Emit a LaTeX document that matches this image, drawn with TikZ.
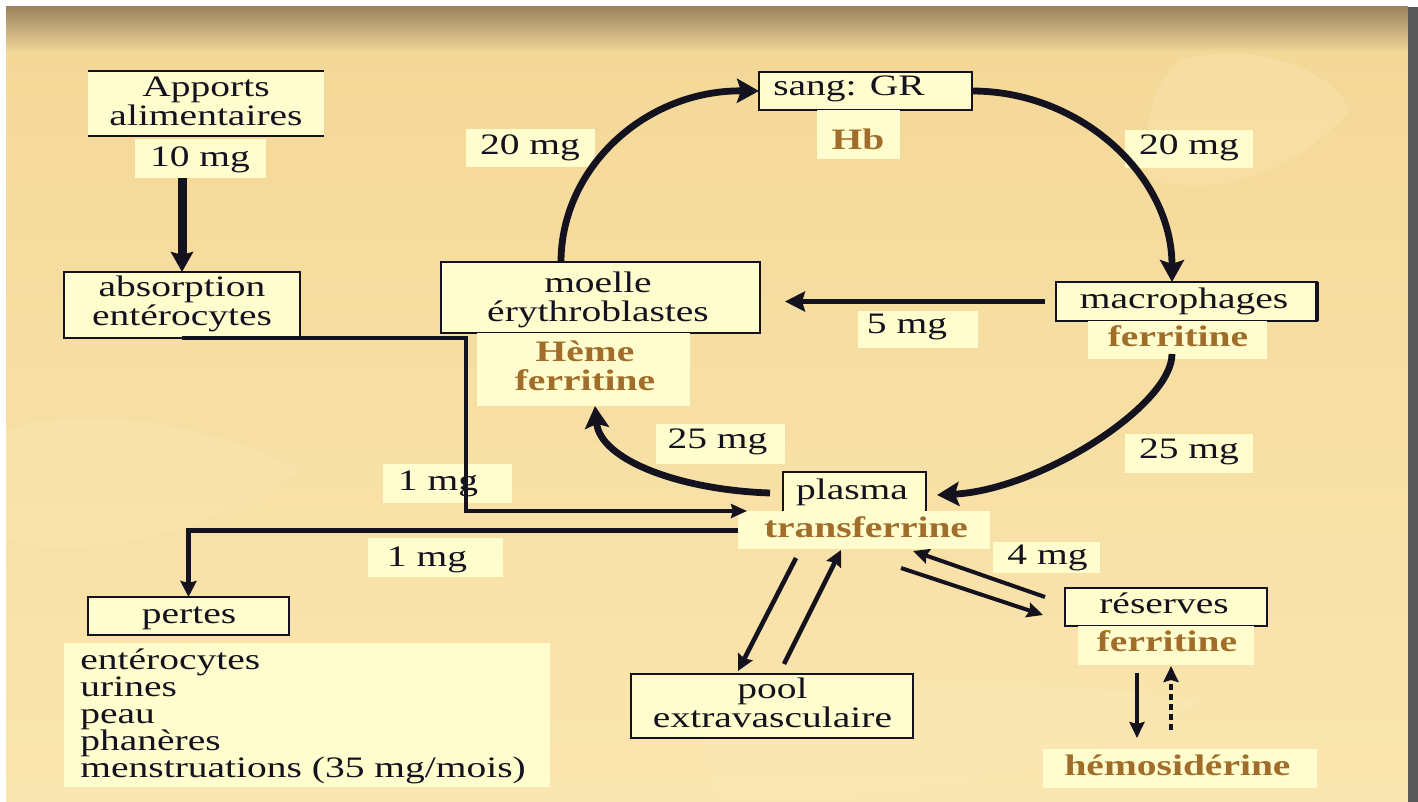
\documentclass[tikz,border=0pt]{standalone}
\usepackage{fontspec}
\setmainfont{Liberation Serif}[FakeStretch=1.33]
\usetikzlibrary{arrows.meta}
\definecolor{cream}{RGB}{255,252,206}
\definecolor{brownt}{RGB}{160,110,42}
\definecolor{hdrtop}{RGB}{155,132,96}
\definecolor{hdrbot}{RGB}{242,214,152}
\definecolor{bgtop}{RGB}{244,216,152}
\definecolor{bgbot}{RGB}{250,230,176}
\definecolor{barg}{RGB}{88,88,88}
\definecolor{ink}{RGB}{20,18,30}
\definecolor{leaf}{RGB}{253,238,190}
\newcommand{\myfs}{\fontsize{14.85}{14.5}\selectfont}
\newcommand{\myfslist}{\fontsize{14.85}{13.5}\selectfont}
\begin{document}
\begin{tikzpicture}[x=0.5pt,y=-0.5pt,
  box/.style={draw=ink, line width=0.8pt, fill=cream, inner sep=0pt, outer sep=0pt},
  lbl/.style={fill=cream, inner sep=0pt, outer sep=0pt},
  sz/.style 2 args={minimum width=#1*0.5pt, minimum height=#2*0.5pt},
  txt/.style={inner sep=0pt, align=center, font=\myfs, text=ink},
  btxt/.style={inner sep=0pt, align=center, font=\myfs\bfseries, text=brownt},
  big/.style={draw=ink, line width=3.4pt, -{Stealth[length=11pt,width=12pt,inset=2pt]}},
  fat/.style={draw=ink, line width=4.5pt, -{Stealth[length=10pt,width=11pt,inset=1.5pt]}},
  mid/.style={draw=ink, line width=2.6pt, -{Stealth[length=10pt,width=10pt,inset=1.5pt]}},
  thinA/.style={draw=ink, line width=1.8pt, -{Stealth[length=8pt,width=7pt,inset=1pt]}},
  thinB/.style={draw=ink, line width=2.5pt, -{Stealth[length=8pt,width=8pt,inset=1pt]}},
  pl/.style={draw=ink, line width=2.3pt, -{Stealth[length=8pt,width=8pt,inset=1pt]}},
  pr/.style={draw=ink, line width=2pt, -{Stealth[length=8pt,width=7.5pt,inset=1pt]}}]
\useasboundingbox (0,0) rectangle (1418,802);
% background
\fill[white] (0,0) rectangle (1418,802);
\shade[top color=hdrtop, bottom color=hdrbot] (6,7) rectangle (1408,52);
\shade[top color=bgtop, bottom color=bgbot] (6,52) rectangle (1408,802);
\fill[leaf, opacity=0.25] (1180,60) .. controls (1260,40) and (1330,70) .. (1350,110) .. controls (1300,170) and (1220,200) .. (1150,180) .. controls (1140,130) and (1150,90) .. cycle;
\fill[leaf, opacity=0.22] (700,720) .. controls (850,670) and (1050,680) .. (1200,700) .. controls (1120,760) and (900,800) .. (720,800) -- cycle;
\fill[leaf, opacity=0.2] (6,430) .. controls (100,400) and (220,430) .. (300,470) .. controls (200,540) and (80,560) .. (6,540) -- cycle;
\fill[barg] (1408,7) rectangle (1418,802);

% boxes
\node[lbl, sz={236}{65}] (apports) at (206,103.5) {};
\draw[ink, line width=0.8pt] (apports.north west) -- (apports.north east) (apports.south west) -- (apports.south east);
\node[lbl, sz={131}{39}] (lbl10) at (200.5,158.5) {};
\node[box, sz={236}{66}] (absorption) at (182,305) {};
\node[box, sz={319}{71}] (moelle) at (600.5,297.5) {};
\node[box, sz={213}{38}] (sang) at (865.5,91) {};
\node[box, sz={261}{39}] (macro) at (1186.5,301.5) {};
\draw[ink, line width=2pt] (macro.north east) -- (macro.south east);
\node[box, sz={143}{53}] (plasma) at (854.5,498.5) {};
\node[box, sz={201}{38}] (pertes) at (188.5,616) {};
\node[box, sz={282}{64}] (pool) at (772,706) {};
\node[box, sz={202}{38}] (reserves) at (1166,607) {};

% cream labels
\node[lbl, sz={213}{73}] (heme) at (583.5,369.5) {};
\node[lbl, sz={83}{49}] (hb) at (858.5,134.5) {};
\node[lbl, sz={129}{38}] (l20a) at (530.5,148) {};
\node[lbl, sz={128}{38}] (l20b) at (1189,149) {};
\node[lbl, sz={179}{38}] (mfl) at (1177.5,340) {};
\node[lbl, sz={120}{37}] (l5) at (918,329.5) {};
\node[lbl, sz={129}{40}] (l25a) at (720.5,444) {};
\node[lbl, sz={128}{39}] (l25b) at (1189,453.5) {};
\node[lbl, sz={252}{38}] (tfl) at (864,530) {};
\node[lbl, sz={129}{39}] (l1a) at (447.5,483.5) {};
\node[lbl, sz={135}{39}] (l1b) at (435.5,557.5) {};
\node[lbl, sz={486}{144}] (lossbox) at (307,715) {};
\node[lbl, sz={176}{39}] (rfl) at (1166,645.5) {};
\node[lbl, sz={107}{31}] (l4) at (1046.5,557.5) {};
\node[lbl, sz={274}{39}] (hemo) at (1180,768.5) {};

% texts
\node[txt] (apportsT) at (206,101) {Apports\\alimentaires};
\node[txt] (t10) at (200,160) {10 mg};
\node[txt] (absT) at (182,303.5) {absorption\\entérocytes};
\node[txt] (moelleT) at (598,300) {moelle\\érythroblastes};
\node[btxt] (hemeT) at (585,366) {Hème\\ferritine};
\node[txt] (sangT) at (849,89) {sang: GR};
\node[btxt] (hbT) at (858,139.5) {Hb};
\node[txt] (t20a) at (530,148) {20 mg};
\node[txt] (t20b) at (1189,148) {20 mg};
\node[txt] (macroT) at (1184,301.5) {macrophages};
\node[btxt] (mferT) at (1178,336) {ferritine};
\node[txt] (t5) at (907,327) {5 mg};
\node[txt] (t25a) at (717.5,442) {25 mg};
\node[txt] (t25b) at (1189,451.5) {25 mg};
\node[txt] (plasmaT) at (852,492.5) {plasma};
\node[btxt] (tfT) at (866,527) {transferrine};
\node[txt] (t1a) at (438,484) {1 mg};
\node[txt] (t1b) at (427,560) {1 mg};
\node[txt] (t4) at (1047.5,558) {4 mg};
\node[txt] (pertesT) at (189,618.5) {pertes};
\node[txt, align=left, anchor=west, font=\myfslist] (lossT) at (80,716) {entérocytes\\urines\\peau\\phanères\\menstruations (35 mg/mois)};
\node[txt] (poolT) at (772.5,702.5) {pool\\extravasculaire};
\node[txt] (resT) at (1164,603) {réserves};
\node[btxt] (rferT) at (1167,641) {ferritine};
\node[btxt] (hemoT) at (1177.5,765) {hémosidérine};

% connector points
\coordinate (jB1) at (466,338);
\coordinate (jB2) at (466,511);
\coordinate (inB) at (747,511);
\coordinate (dS) at (561,262);
\coordinate (eE) at (1172,282);
\coordinate (gS) at (1172,354);
\coordinate (gE) at (937,495);
\coordinate (hS) at (770,493);
\coordinate (hE) at (595,406);
\coordinate (p1s) at (796,558);
\coordinate (p1e) at (738,671);
\coordinate (p2s) at (784,664);
\coordinate (p2e) at (841,550);
\coordinate (r1s) at (1045,597);
\coordinate (r1e) at (913,551);
\coordinate (r2s) at (901,568);
\coordinate (r2e) at (1043,615);
\coordinate (k1s) at (1137,673);
\coordinate (k1e) at (1137,738);
\coordinate (k2s) at (1171,730);
\coordinate (k2e) at (1171,666);

% connectors
\draw[fat] (absorption.north |- lbl10.south) -- (absorption.north);
\draw[thinA] (absorption.south) -- (jB1) -- (jB2) -- (inB);
\draw[thinB] (tfl.west) -- (pertes.north |- tfl.west) -- (pertes.north);
\draw[big] (dS) .. controls (561,168) and (645,90) .. (sang.west);
\draw[big] (sang.east) .. controls (1082,91) and (1172,177) .. (eE);
\draw[mid, shorten <=5.5pt, shorten >=12.5pt] (macro.west) -- (moelle.east |- macro.west);
\draw[big] (gS) .. controls (1172,405) and (1040,490) .. (gE);
\draw[big] (hS) .. controls (680,490) and (600,460) .. (hE);
\draw[pl] (p1s) -- (p1e);
\draw[pl] (p2s) -- (p2e);
\draw[pr] (r1s) -- (r1e);
\draw[pr] (r2s) -- (r2e);
\draw[pr] (k1s) -- (k1e);
\draw[pr, dash pattern=on 3pt off 2pt] (k2s) -- (k2e);
\end{tikzpicture}
\end{document}
